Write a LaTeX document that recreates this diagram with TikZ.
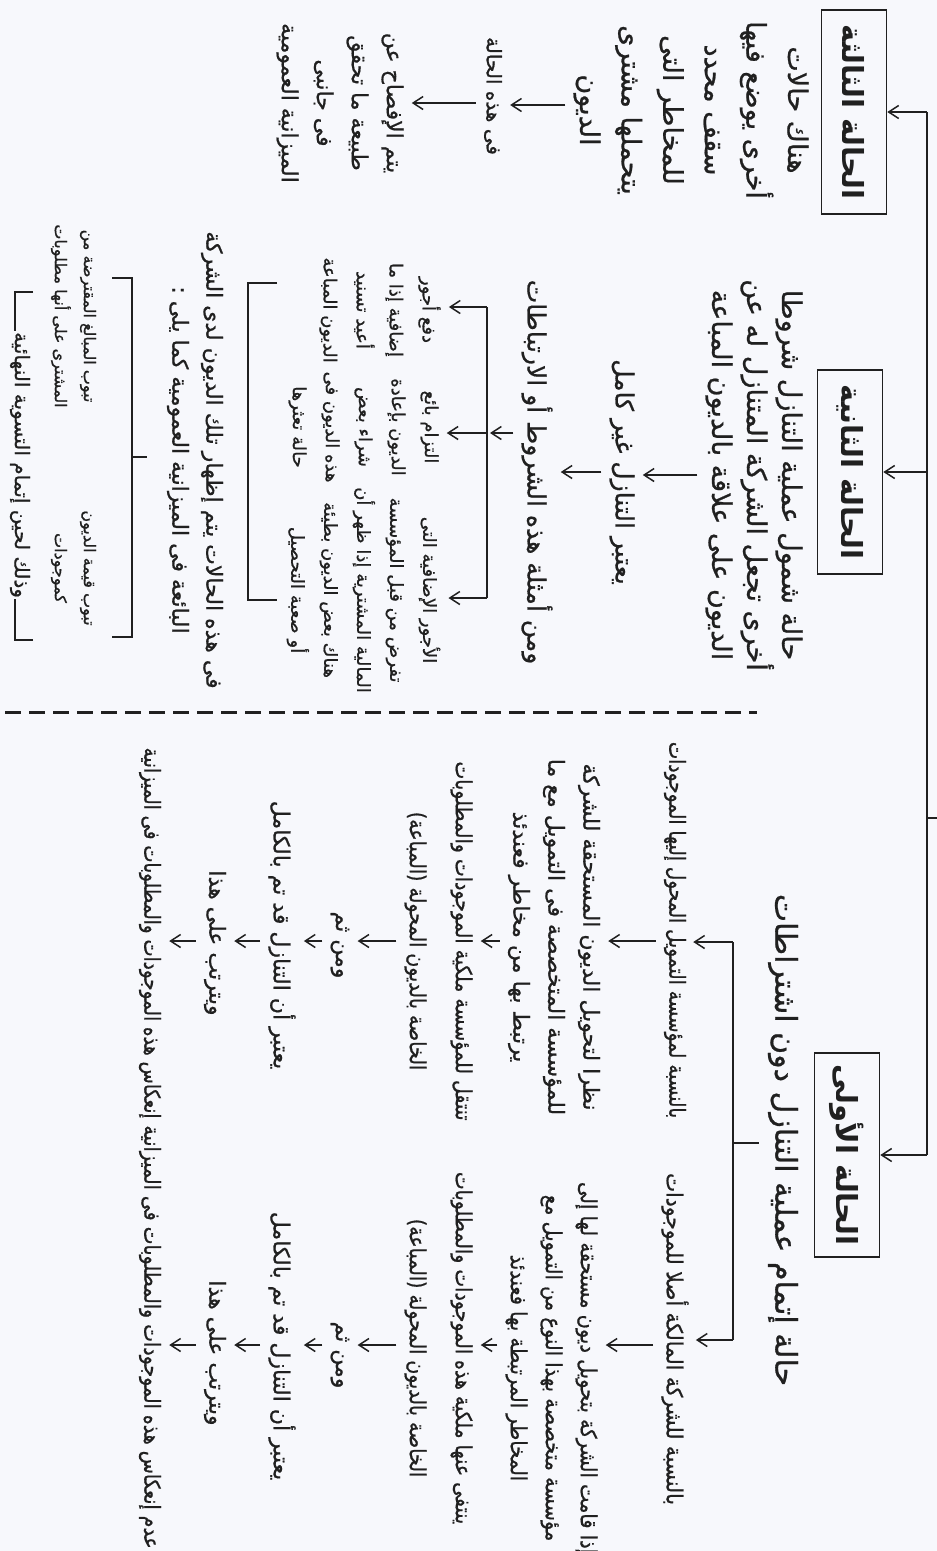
\documentclass[tikz,border=0pt]{standalone}
\usepackage{fontspec}
\newfontfamily\arabicfont[Script=Arabic, FakeBold=0.8]{DejaVu Sans}
\newfontfamily\arabicbold[Script=Arabic]{DejaVu Sans Bold}
\TeXXeTstate=1
\usetikzlibrary{arrows.meta}
\newcommand{\arl}[1]{\beginR #1\endR}
\definecolor{ink}{HTML}{202020}
\definecolor{paper}{HTML}{F7F8FC}
\begin{document}
\begin{tikzpicture}[x=1pt,y=-1pt,
  every node/.style={rotate=-90, text=ink, align=center, inner sep=1pt},
  thead/.style={font=\arabicfont\fontsize{30}{#1}\selectfont}, thead/.default=36,
  tbig/.style={font=\arabicfont\fontsize{27}{#1}\selectfont}, tbig/.default=36,
  tmid/.style={font=\arabicfont\fontsize{25}{#1}\selectfont}, tmid/.default=35,
  tbody/.style={font=\arabicfont\fontsize{22}{#1}\selectfont}, tbody/.default=35,
  tsmall/.style={font=\arabicfont\fontsize{18}{#1}\selectfont}, tsmall/.default=33,
  ttiny/.style={font=\arabicfont\fontsize{16}{#1}\selectfont}, ttiny/.default=29,
  casebox/.style={draw=ink, line width=1.6pt, minimum width=204pt, minimum height=65pt,
    font=\arabicbold\fontsize{29}{32}\selectfont},
  conn/.style={draw=ink, line width=1.5pt},
  arr/.style={conn, -{Straight Barb[length=10pt,width=13pt]}},
  sarr/.style={arr, shorten <=7pt, shorten >=7pt},
]
\fill[paper] (0,0) rectangle (937,1551);
\useasboundingbox (0,0) rectangle (937,1551);

% ---- case boxes and trunk
\node[casebox] (box3) at (854,112) {\arl{الحالة الثالثة}};
\node[casebox] (box2) at (850,472) {\arl{الحالة الثانية}};
\node[casebox] (box1) at (847,1155) {\arl{الحالة الأولى}};
\coordinate (T) at (927,818);
\coordinate (Tin) at (937,818);
\draw[conn] (T |- box3.north) -- (T |- box1.north);
\draw[conn] (T) -- (Tin);
\foreach \b in {box1,box2,box3} \draw[arr] (T |- \b.north) -- (\b.north);

% ---- case 3
\node[tbig=41.6] (c3a) at (691,110) {\arl{هناك حالات}\\\arl{أخرى يوضع فيها}\\\arl{سقف محدد}\\\arl{للمخاطر التى}\\\arl{يتحملها مشترى}\\\arl{الديون}};
\node[tbody, font=\arabicfont\fontsize{20}{30}\selectfont] (c3b) at (493,96) {\arl{فى هذه الحالة}};
\node[tbody=35] (c3c) at (340,103) {\arl{يتم الإفصاح عن}\\\arl{طبيعة ما تحقق}\\\arl{فى جانبى}\\\arl{الميزانية العمومية}};
\draw[sarr] (c3a.south |- 0,105) -- (c3b.north |- 0,105);
\draw[sarr] (c3b.south |- 0,103) -- (c3c.north |- 0,103);

% ---- case 2
\node[tbig=35] (c2a) at (754,475) {\arl{حالة شمول عملية التنازل شروطا}\\\arl{أخرى تجعل الشركة المتنازل له عن}\\\arl{الديون على علاقة بالديون المباعة}};
\node[tmid] (c2b) at (622,472) {\arl{يعتبر التنازل غير كامل}};
\node[tmid] (c2c) at (537,472) {\arl{ومن أمثلة هذه الشروط أو الارتباطات}};
\draw[sarr] (c2a.south) -- (c2a.south -| c2b.north);
\draw[sarr] (c2b.south) -- (c2b.south -| c2c.north);
\coordinate (k2t) at (487,307);
\coordinate (k2m) at (487,433);
\coordinate (k2b) at (487,598);
\draw[conn] (k2t) -- (k2b);
\draw[arr, shorten <=7pt, shorten >=3pt] (c2c.south |- k2m) -- (k2m);
\node[tsmall] (exA) at (380,310) {\arl{دفع أجور}\\\arl{إضافية إذا ما}\\\arl{أعيد تسنيد}\\\arl{الديون المباعة}};
\node[tsmall] (exB) at (363.5,427) {\arl{التزام بائع}\\\arl{الديون بإعادة}\\\arl{شراء بعض}\\\arl{هذه الديون فى}\\\arl{حالة تعثرها}};
\node[tsmall] (exC) at (363.5,590) {\arl{الأجور الإضافية التى}\\\arl{تفرض من قبل المؤسسة}\\\arl{المالية المشترية إذا ظهر أن}\\\arl{هناك بعض الديون بطيئة}\\\arl{أو صعبة التحصيل}};
\draw[arr, shorten >=7pt] (k2t) -- (k2t -| exA.north);
\draw[arr, shorten >=7pt] (k2m) -- (k2m -| exB.north);
\draw[arr, shorten >=7pt] (k2b) -- (k2b -| exC.north);
\coordinate (g1) at (277,283);
\coordinate (g2) at (248,283);
\coordinate (g3) at (248,600);
\coordinate (g4) at (277,600);
\draw[conn] (g1) -- (g2) -- (g3) -- (g4);
\node[tbody=34] (cons) at (195,460) {\arl{فى هذه الحالات يتم إظهار تلك الديون لدى الشركة}\\\arl{البائعة فى الميزانية العمومية كما يلى :}};
\coordinate (h1) at (112,278);
\coordinate (h2) at (132,278);
\coordinate (h3) at (132,637);
\coordinate (h4) at (112,637);
\coordinate (hm) at (132,457);
\coordinate (hs) at (147,457);
\draw[conn] (h1) -- (h2) -- (h3) -- (h4);
\draw[conn] (hm) -- (hs);
\node[ttiny] (it1) at (73.5,316) {\arl{تبوب المبالغ المقترضة من}\\\arl{المشترى على أنها مطلوبات}};
\node[ttiny] (it2) at (73.5,568) {\arl{تبوب قيمة الديون}\\\arl{كموجودات}};
\node[tbody, font=\arabicfont\fontsize{20}{30}\selectfont] (fin) at (20,465) {\arl{وذلك لحين إتمام التسوية النهائية}};
\coordinate (f1) at (33,292);
\coordinate (f2) at (15,292);
\coordinate (f3) at (15,640);
\coordinate (f4) at (33,640);
\draw[conn] (f1) -- (f2) -- (f2 |- fin.west);
\draw[conn] (f4) -- (f3) -- (f3 |- fin.east);

% ---- separator
\draw[ink, line width=3pt, dash pattern=on 16pt off 8pt] (5,712) -- (757,712);

% ---- case 1
\node[thead] (hd1) at (783,1140) {\arl{حالة إتمام عملية التنازل دون اشتراطات}};
\coordinate (k1) at (733,1143);
\node[tbody, xscale=0.84] (a1) at (675,930) {\arl{بالنسبة لمؤسسة التمويل المحول إليها الموجودات}};
\node[tbody=35] (a2) at (554,937) {\arl{نظرا لتحويل الديون المستحقة للشركة}\\\arl{للمؤسسة المتخصصة فى التمويل مع ما}\\\arl{يرتبط بها من مخاطر فعندئذ}};
\node[tbody=46, xscale=0.86] (a3) at (438.5,941) {\arl{تنتقل للمؤسسة ملكية الموجودات والمطلوبات}\\\arl{الخاصة بالديون المحولة (المباعة)}};
\node[tbody] (a4) at (340,945) {\arl{ومن ثم}};
\node[tbody] (a5) at (282,935) {\arl{يعتبر أن التنازل قد تم بالكامل}};
\node[tbody] (a6) at (215,943) {\arl{ويترتب على هذا}};
\node[tbody, xscale=0.83] (a7) at (150,933) {\arl{إنعكاس هذه الموجودات والمطلوبات فى الميزانية}};
\node[tbody, xscale=0.92] (b1) at (675,1339) {\arl{بالنسبة للشركة المالكة أصلا للموجودات}};
\node[tbody=35, xscale=0.88] (b2) at (551.5,1368) {\arl{إذا قامت الشركة بتحويل ديون مستحقة لها إلى}\\\arl{مؤسسة متخصصة بهذا النوع من التمويل مع}\\\arl{المخاطر المرتبطة بها فعندئذ}};
\node[tbody=46, xscale=0.86] (b3) at (438.5,1348) {\arl{ينتفى عنها ملكية هذه الموجودات والمطلوبات}\\\arl{الخاصة بالديون المحولة (المباعة)}};
\node[tbody] (b4) at (340,1355) {\arl{ومن ثم}};
\node[tbody] (b5) at (282,1346) {\arl{يعتبر أن التنازل قد تم بالكامل}};
\node[tbody] (b6) at (215,1353) {\arl{ويترتب على هذا}};
\node[tbody, xscale=0.86] (b7) at (150,1337) {\arl{عدم إنعكاس هذه الموجودات والمطلوبات فى الميزانية}};
\draw[conn, shorten <=8pt] (hd1.south |- k1) -- (k1);
\draw[conn] (k1 |- 0,942) -- (k1 |- 0,1340);
\draw[arr, shorten >=6pt] (k1 |- 0,942) -- (a1.north |- 0,942);
\draw[arr, shorten >=6pt] (k1 |- 0,1340) -- (b1.north |- 0,1340);
\foreach \p/\q in {a1/a2,a2/a3,a3/a4,a4/a5,a5/a6,a6/a7}
  \draw[sarr] (\p.south |- 0,941) -- (\q.north |- 0,941);
\foreach \p/\q in {b1/b2,b2/b3,b3/b4,b4/b5,b5/b6,b6/b7}
  \draw[sarr] (\p.south |- 0,1345) -- (\q.north |- 0,1345);
\end{tikzpicture}
\end{document}
